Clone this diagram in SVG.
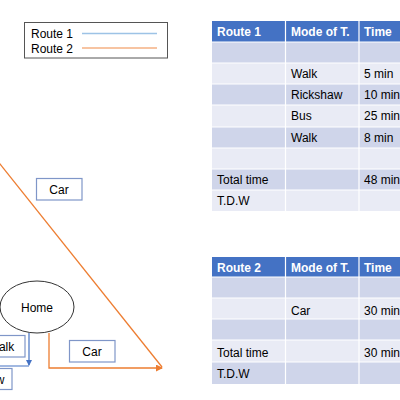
<svg xmlns="http://www.w3.org/2000/svg" width="400" height="400" viewBox="0 0 400 400">
<defs>
<style>
text{font-family:"Liberation Sans","Open Sans",sans-serif;font-size:12px;fill:#000}
.h{fill:#fff;font-weight:bold}
.hd{fill:#4472C4}
.dk{fill:#CFD5EA}
.lt{fill:#E9EBF5}
.grid{stroke:#fff;stroke-width:1.2;fill:none}
.box{fill:#fff;stroke:#7F96C8;stroke-width:1.2}
</style>
<marker id="ab" markerWidth="6" markerHeight="6" refX="5" refY="3" orient="auto" markerUnits="userSpaceOnUse"><path d="M0,0 L6,3 L0,6 z" fill="#4472C4"/></marker>
<marker id="ao" markerWidth="7" markerHeight="7" refX="6" refY="3.5" orient="auto" markerUnits="userSpaceOnUse"><path d="M0,0 L7,3.5 L0,7 z" fill="#ED7D31"/></marker>
</defs>
<rect width="400" height="400" fill="#fff"/>

<g id="legend">
<rect x="24.5" y="22.5" width="143" height="35.5" fill="#fff" stroke="#555" stroke-width="1"/>
<text x="31" y="38">Route 1</text>
<text x="31" y="52.5">Route 2</text>
<line x1="82" y1="33.5" x2="157" y2="33.5" stroke="#9DC3E6" stroke-width="1.5"/>
<line x1="82" y1="48" x2="157" y2="48" stroke="#F4B183" stroke-width="1.5"/>
</g>

<g id="table1">
<rect x="212" y="21" width="220" height="21" class="hd"/>
<rect x="212" y="42" width="220" height="21" class="dk"/>
<rect x="212" y="63" width="220" height="21" class="lt"/>
<rect x="212" y="84" width="220" height="21" class="dk"/>
<rect x="212" y="105" width="220" height="22" class="lt"/>
<rect x="212" y="127" width="220" height="21" class="dk"/>
<rect x="212" y="148" width="220" height="21" class="lt"/>
<rect x="212" y="169" width="220" height="21" class="dk"/>
<rect x="212" y="190" width="220" height="21" class="lt"/>
<path class="grid" d="M285.5,21 V211 M359,21 V211 M212,42 H432 M212,63 H432 M212,84 H432 M212,105 H432 M212,127 H432 M212,148 H432 M212,169 H432 M212,190 H432"/>
<text x="217" y="36" class="h">Route 1</text>
<text x="291" y="36" class="h">Mode of T.</text>
<text x="364" y="36" class="h">Time</text>
<text x="291" y="78">Walk</text><text x="364" y="78">5 min</text>
<text x="291" y="99">Rickshaw</text><text x="364" y="99">10 min</text>
<text x="291" y="120">Bus</text><text x="364" y="120">25 min</text>
<text x="291" y="142">Walk</text><text x="364" y="142">8 min</text>
<text x="217" y="184">Total time</text><text x="364" y="184">48 min</text>
<text x="217" y="205">T.D.W</text>
</g>

<g id="table2">
<rect x="212" y="257" width="220" height="20" class="hd"/>
<rect x="212" y="277" width="220" height="21" class="dk"/>
<rect x="212" y="298" width="220" height="21" class="lt"/>
<rect x="212" y="319" width="220" height="21" class="dk"/>
<rect x="212" y="340" width="220" height="22" class="lt"/>
<rect x="212" y="362" width="220" height="22" class="dk"/>
<path class="grid" d="M285.5,257 V384 M359,257 V384 M212,277 H432 M212,298 H432 M212,319 H432 M212,340 H432 M212,362 H432"/>
<text x="217" y="272" class="h">Route 2</text>
<text x="291" y="272" class="h">Mode of T.</text>
<text x="364" y="272" class="h">Time</text>
<text x="291" y="315">Car</text><text x="364" y="315">30 min</text>
<text x="217" y="357">Total time</text><text x="364" y="357">30 min</text>
<text x="217" y="378">T.D.W</text>
</g>

<g id="connectors" fill="none">
<line x1="-20" y1="139" x2="162" y2="367" stroke="#ED7D31" stroke-width="1.3"/>
<path d="M49,333 V368 H162" stroke="#ED7D31" stroke-width="1.3" marker-end="url(#ao)"/>
<path d="M29,333 V365" stroke="#4472C4" stroke-width="1.2" marker-end="url(#ab)"/>
<path d="M-5,366 H29" stroke="#4472C4" stroke-width="1.2"/>
</g>

<g id="home">
<ellipse cx="37" cy="307" rx="37" ry="26" fill="#fff" stroke="#333" stroke-width="1"/>
<text x="37" y="312" text-anchor="middle" font-size="12.5">Home</text>
</g>

<g id="car1">
<rect x="36.5" y="178.5" width="45.5" height="21.5" class="box"/>
<text x="59" y="194" text-anchor="middle" font-size="12.5">Car</text>
</g>

<g id="car2">
<rect x="69.5" y="340.5" width="45.5" height="21.5" class="box"/>
<text x="92" y="356" text-anchor="middle" font-size="12.5">Car</text>
</g>

<g id="walk">
<rect x="-30" y="335.5" width="55" height="21.5" class="box"/>
<text x="-12" y="351" font-size="12.5">Walk</text>
</g>

<g id="rickshaw">
<rect x="-60" y="368.5" width="72" height="21" class="box"/>
<text x="-47" y="384" font-size="12.5">Rickshaw</text>
</g>
</svg>
